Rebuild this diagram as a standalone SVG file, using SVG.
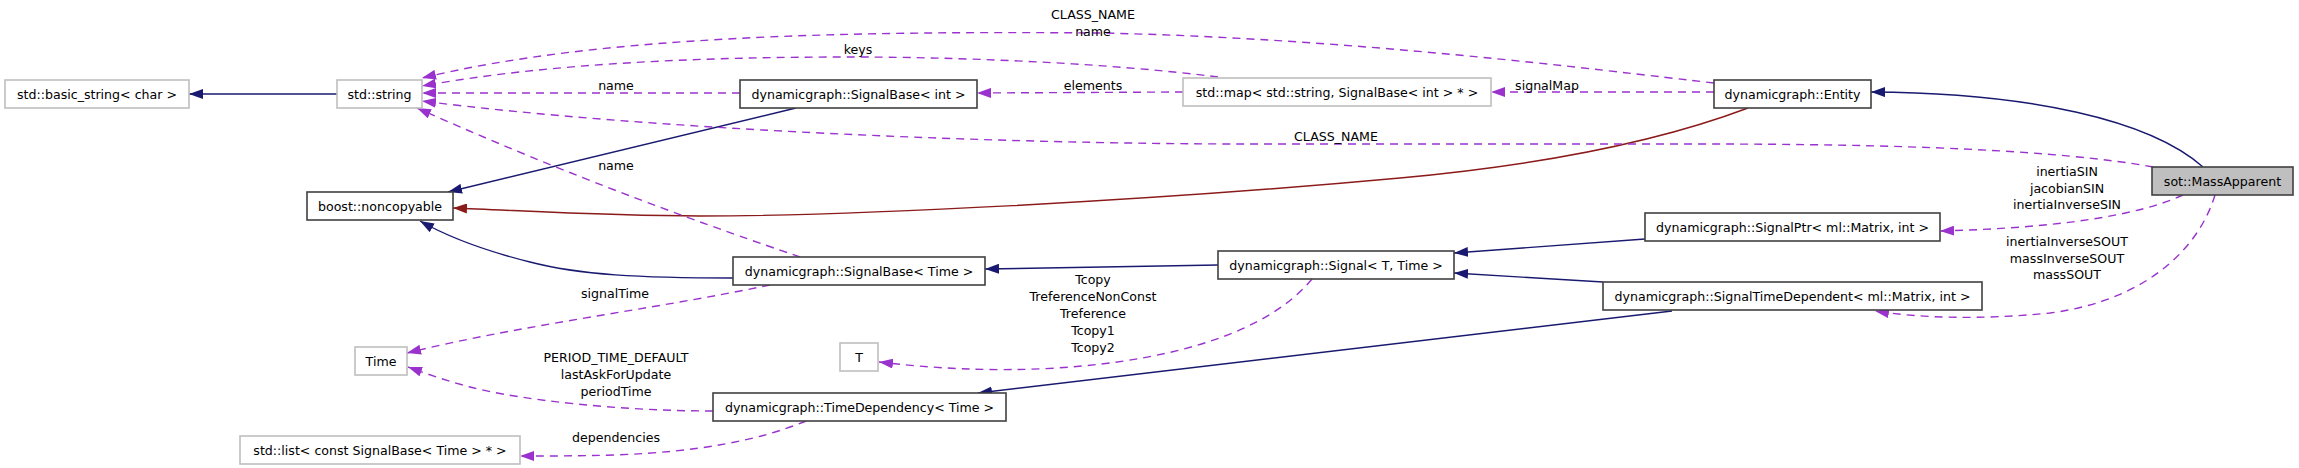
<svg xmlns="http://www.w3.org/2000/svg" width="2299" height="468" viewBox="0 0 2299 468">
<style>
text{font-family:"DejaVu Sans","Liberation Sans",sans-serif;font-size:12.6px;fill:#000;text-anchor:middle}
.n rect{fill:#fff;stroke:#404040;stroke-width:1.6}
.g rect{fill:#fff;stroke:#bfbfbf;stroke-width:1.6}
.cur rect{fill:#bfbfbf;stroke:#404040;stroke-width:1.6}
.e{fill:none;stroke-width:1.4}
.blue{stroke:#191970;marker-end:url(#ab)}
.red{stroke:#8b1a1a;marker-end:url(#ar)}
.pur{stroke:#9a32cd;stroke-dasharray:8,6;marker-end:url(#ap)}
</style>
<defs>
<marker id="ab" viewBox="0 0 14 10" refX="14" refY="5" markerWidth="14" markerHeight="10" markerUnits="userSpaceOnUse" orient="auto"><path d="M0,0 L14,5 L0,10 z" fill="#191970"/></marker>
<marker id="ar" viewBox="0 0 14 10" refX="14" refY="5" markerWidth="14" markerHeight="10" markerUnits="userSpaceOnUse" orient="auto"><path d="M0,0 L14,5 L0,10 z" fill="#8b1a1a"/></marker>
<marker id="ap" viewBox="0 0 14 10" refX="14" refY="5" markerWidth="14" markerHeight="10" markerUnits="userSpaceOnUse" orient="auto"><path d="M0,0 L14,5 L0,10 z" fill="#9a32cd"/></marker>
</defs>
<rect width="2299" height="468" fill="#fff"/>
<g id="connectors">
<path class="e blue" d="M337,94 L189,94"/>
<path class="e blue" d="M796,108 L448,192"/>
<path class="e blue" d="M733,278 C640,278 580,275 530,262 C490,252 450,238 420,221"/>
<path class="e red" d="M1748,108 C1650,145 1530,166 1400,178 C1150,201 850,216 700,216 C610,216 530,211 453,208"/>
<path class="e blue" d="M1218,265 L985,269"/>
<path class="e blue" d="M1645,239 L1454,253"/>
<path class="e blue" d="M1603,282 L1454,273"/>
<path class="e blue" d="M1672,311 L978,393"/>
<path class="e blue" d="M2203,167 C2150,120 2030,93 1871,92"/>
<path class="e pur" d="M1714,83 C1600,70 1350,38 1100,33 C850,31 600,35 422,78"/>
<path class="e pur" d="M1218,77 C1100,62 950,57 850,57 C700,57 550,63 422,86"/>
<path class="e pur" d="M740,93 L422,93"/>
<path class="e pur" d="M1183,92 L977,93"/>
<path class="e pur" d="M1714,92 L1491,92"/>
<path class="e pur" d="M2153,167 C2060,150 1900,144 1700,144 L1250,144 C1000,144 650,130 422,101"/>
<path class="e pur" d="M800,257 C760,243 600,190 417,108"/>
<path class="e pur" d="M2183,195 C2140,215 2060,228 1940,231"/>
<path class="e pur" d="M2215,195 C2200,245 2150,300 2050,313 C1980,320 1920,318 1875,311"/>
<path class="e pur" d="M1312,279 C1270,330 1180,360 1057,368 C990,372 930,368 879,362"/>
<path class="e pur" d="M770,285 C650,310 520,325 407,353"/>
<path class="e pur" d="M713,411 C620,411 520,400 470,387 C440,379 425,373 408,367"/>
<path class="e pur" d="M806,421 C760,440 700,452 614,455 C580,456 550,456 520,456"/>
<text x="1093" y="18.5">CLASS_NAME</text>
<text x="1093" y="35.5">name</text>
<text x="858" y="53.5">keys</text>
<text x="616" y="89.5">name</text>
<text x="1093" y="89.5">elements</text>
<text x="1547" y="89.5">signalMap</text>
<text x="1336" y="140.5">CLASS_NAME</text>
<text x="616" y="169.5">name</text>
<text x="2067" y="175.5">inertiaSIN</text>
<text x="2067" y="192.5">jacobianSIN</text>
<text x="2067" y="208.5">inertiaInverseSIN</text>
<text x="2067" y="245.5">inertiaInverseSOUT</text>
<text x="2067" y="262.5">massInverseSOUT</text>
<text x="2067" y="278.5">massSOUT</text>
<text x="1093" y="283.5">Tcopy</text>
<text x="1093" y="300.5">TreferenceNonConst</text>
<text x="1093" y="317.5">Treference</text>
<text x="1093" y="334.5">Tcopy1</text>
<text x="1093" y="351.5">Tcopy2</text>
<text x="615" y="297.5">signalTime</text>
<text x="616" y="361.5">PERIOD_TIME_DEFAULT</text>
<text x="616" y="378.5">lastAskForUpdate</text>
<text x="616" y="395.5">periodTime</text>
<text x="616" y="441.5">dependencies</text>
</g>
<g id="node-basic-string" class="g"><rect x="5" y="80" width="184" height="28"/><text x="97" y="98.5">std::basic_string&lt; char &gt;</text></g>
<g id="node-string" class="g"><rect x="337" y="80" width="85" height="28"/><text x="379.5" y="98.5">std::string</text></g>
<g id="node-noncopyable" class="n"><rect x="307" y="192" width="146" height="28"/><text x="380" y="210.5">boost::noncopyable</text></g>
<g id="node-signalbase-int" class="n"><rect x="740" y="80" width="237" height="28"/><text x="858.5" y="98.5">dynamicgraph::SignalBase&lt; int &gt;</text></g>
<g id="node-map" class="g"><rect x="1183" y="78" width="308" height="28"/><text x="1337" y="96.5">std::map&lt; std::string, SignalBase&lt; int &gt; * &gt;</text></g>
<g id="node-entity" class="n"><rect x="1714" y="80" width="157" height="28"/><text x="1792.5" y="98.5">dynamicgraph::Entity</text></g>
<g id="node-massapparent" class="cur"><rect x="2152" y="167" width="141" height="28"/><text x="2222.5" y="185.5">sot::MassApparent</text></g>
<g id="node-signalptr" class="n"><rect x="1645" y="213" width="295" height="28"/><text x="1792.5" y="231.5">dynamicgraph::SignalPtr&lt; ml::Matrix, int &gt;</text></g>
<g id="node-signaltimedependent" class="n"><rect x="1603" y="282" width="379" height="28"/><text x="1792.5" y="300.5">dynamicgraph::SignalTimeDependent&lt; ml::Matrix, int &gt;</text></g>
<g id="node-signal" class="n"><rect x="1218" y="251" width="236" height="28"/><text x="1336" y="269.5">dynamicgraph::Signal&lt; T, Time &gt;</text></g>
<g id="node-signalbase-time" class="n"><rect x="733" y="257" width="252" height="28"/><text x="859" y="275.5">dynamicgraph::SignalBase&lt; Time &gt;</text></g>
<g id="node-T" class="g"><rect x="840" y="343" width="38" height="28"/><text x="859" y="361.5">T</text></g>
<g id="node-timedependency" class="n"><rect x="713" y="393" width="293" height="28"/><text x="859.5" y="411.5">dynamicgraph::TimeDependency&lt; Time &gt;</text></g>
<g id="node-time" class="g"><rect x="355" y="347" width="52" height="28"/><text x="381" y="365.5">Time</text></g>
<g id="node-list" class="g"><rect x="240" y="436" width="280" height="28"/><text x="380" y="454.5">std::list&lt; const SignalBase&lt; Time &gt; * &gt;</text></g>
</svg>
